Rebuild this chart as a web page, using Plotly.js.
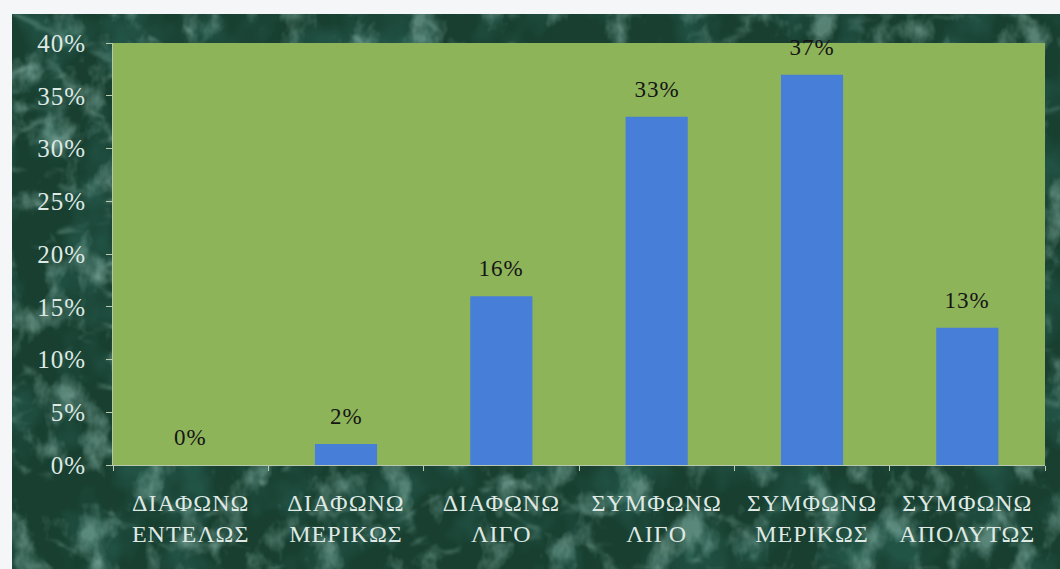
<!DOCTYPE html>
<html>
<head>
<meta charset="utf-8">
<script src="https://cdn.plot.ly/plotly-3.0.1.min.js"></script>
<style>
  html, body { margin: 0; padding: 0; background: #f4f6f8; }
  #wrap { position: relative; width: 1060px; height: 569px; overflow: hidden; }
  #marble { position: absolute; left: 12px; top: 14px; }
  #chart { position: absolute; left: 0; top: 0; width: 1060px; height: 569px; }
  /* wide serif lettering */
  #chart .xtick text, #chart .ytick text { letter-spacing: 1px; }
  #chart .annotation-text { letter-spacing: 1px; }
</style>
</head>
<body>
<div id="wrap">
  <!-- dark green marble backdrop -->
  <svg id="marble" width="1048" height="555" xmlns="http://www.w3.org/2000/svg">
    <defs>
      <filter id="blotch" x="0" y="0" width="100%" height="100%">
        <feTurbulence type="fractalNoise" baseFrequency="0.02 0.016" numOctaves="3" seed="3"/>
        <feColorMatrix type="matrix" values="0 0 0 0 0.02  0 0 0 0 0.11  0 0 0 0 0.08  0 -3 0 0 1.7"/>
      </filter>
      <filter id="clouds" x="0" y="0" width="100%" height="100%">
        <feTurbulence type="fractalNoise" baseFrequency="0.03 0.022" numOctaves="4" seed="9"/>
        <feColorMatrix type="matrix" values="0 0 0 0 0.36  0 0 0 0 0.64  0 0 0 0 0.56  3.5 0 0 0 -1.8"/>
      </filter>
      <filter id="veins" x="0" y="0" width="100%" height="100%">
        <feTurbulence type="turbulence" baseFrequency="0.01 0.016" numOctaves="4" seed="21"/>
        <feColorMatrix type="matrix" values="0 0 0 0 0.45  0 0 0 0 0.74  0 0 0 0 0.66  -6 0 0 0 0.9"/>
        <feGaussianBlur stdDeviation="0.8"/>
      </filter>
    </defs>
    <rect width="100%" height="100%" fill="#183f30"/>
    <rect width="100%" height="100%" filter="url(#blotch)" opacity="0.7"/>
    <rect width="100%" height="100%" filter="url(#clouds)" opacity="0.45"/>
    <rect width="100%" height="100%" filter="url(#veins)" opacity="0.35"/>
  </svg>
  <div id="chart"></div>
</div>
<script>
// Survey answers and their shares
const categories = [
  "ΔΙΑΦΩΝΩ<br>ΕΝΤΕΛΩΣ",
  "ΔΙΑΦΩΝΩ<br>ΜΕΡΙΚΩΣ",
  "ΔΙΑΦΩΝΩ<br>ΛΙΓΟ",
  "ΣΥΜΦΩΝΩ<br>ΛΙΓΟ",
  "ΣΥΜΦΩΝΩ<br>ΜΕΡΙΚΩΣ",
  "ΣΥΜΦΩΝΩ<br>ΑΠΟΛΥΤΩΣ"
];
const shares = [0.00, 0.02, 0.16, 0.33, 0.37, 0.13];
const yTickValues = [0, 0.05, 0.10, 0.15, 0.20, 0.25, 0.30, 0.35, 0.40];

const serif = "'Liberation Serif', 'Times New Roman', serif";
const lightText = "#dfe9e4";

const bars = {
  type: "bar",
  x: categories,
  y: shares,
  marker: { color: "#477ed8" },
  hoverinfo: "x+y"
};

// value labels floating above each bar
const valueLabels = categories.map((c, i) => ({
  x: c,
  y: shares[i],
  xref: "x",
  yref: "y",
  text: Math.round(shares[i] * 100) + "%",
  showarrow: false,
  yanchor: "bottom",
  yshift: 13,
  font: { family: serif, size: 23, color: "#151515" }
}));

const layout = {
  width: 1060,
  height: 569,
  margin: { l: 113, r: 15, t: 43, b: 104 },
  paper_bgcolor: "rgba(0,0,0,0)",
  plot_bgcolor: "#8eb45a",
  bargap: 0.6,
  showlegend: false,
  xaxis: {
    type: "category",
    showgrid: false,
    zeroline: false,
    showline: true,
    linecolor: "#b9c9b0",
    linewidth: 1,
    ticks: "outside",
    tickson: "boundaries",
    ticklen: 5,
    tickcolor: "#b9c9b0",
    ticklabelstandoff: 16,
    tickfont: { family: serif, size: 24, color: lightText }
  },
  yaxis: {
    range: [0, 0.40],
    tickvals: yTickValues,
    tickformat: ".0%",
    showgrid: false,
    zeroline: false,
    showline: true,
    linecolor: "#b9c9b0",
    linewidth: 1,
    ticks: "outside",
    ticklen: 6,
    tickcolor: "#b9c9b0",
    ticklabelstandoff: 15,
    tickfont: { family: serif, size: 25, color: lightText }
  },
  annotations: valueLabels
};

Plotly.newPlot("chart", [bars], layout, { displayModeBar: false, staticPlot: true });
</script>
</body>
</html>
